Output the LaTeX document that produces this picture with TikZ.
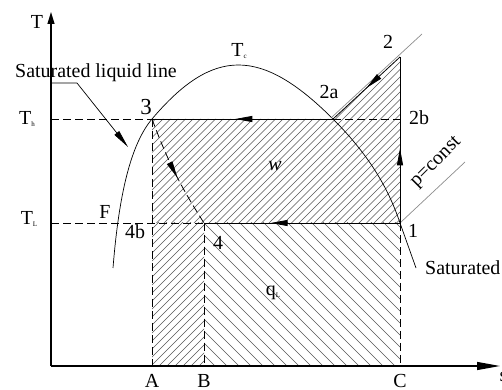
\documentclass[tikz,border=0pt]{standalone}
\usepackage{fontspec}
\setmainfont{Liberation Serif}
\usepackage{tikz}
\usetikzlibrary{arrows.meta,calc,decorations.markings}
\definecolor{hLine}{HTML}{555555}
\definecolor{pLine}{HTML}{8C8C8C}
\newcommand{\lowidx}[1]{\raisebox{-0.2ex}{\fontsize{7}{7}\selectfont #1}}
\tikzset{
  lbl/.style={font=\fontsize{20}{24}\selectfont, inner sep=0pt},
  cyc/.style={draw=black, line width=0.8pt},
  guide/.style={draw=black, line width=0.8pt, dash pattern=on 8bp off 4bp},
  hatch/.style={draw=hLine, line width=0.5pt},
  isobar/.style={draw=pLine, line width=0.7pt},
  axis/.style={draw=black, line width=1.2pt},
  flowmark/.style={postaction={decorate}, decoration={markings,
      mark=at position #1 with {\arrow{Triangle[length=17bp,width=6bp]}}}},
}

\begin{document}
\begin{tikzpicture}[x=10bp,y=10bp]
  \useasboundingbox (-5.1,-2.4) rectangle (45.1,36.6);
  % axes and state points
  \coordinate (O) at (0,0);
  \coordinate (Ttop) at (0,35.4);
  \coordinate (Send) at (44.9,0);
  \coordinate (A) at (10.1,0);
  \coordinate (B) at (15.3,0);
  \coordinate (C) at (34.9,0);
  \coordinate (Th) at (0,24.7);
  \coordinate (TL) at (0,14.3);
  \coordinate (p3) at (10.1,24.7);
  \coordinate (p2a) at (28.2,24.7);
  \coordinate (p2b) at (34.9,24.7);
  \coordinate (p2) at (34.9,30.9);
  \coordinate (p1) at (34.9,14.3);
  \coordinate (p4) at (15.3,14.3);
  \coordinate (p4b) at (10.1,14.3);
  \coordinate (iso1) at (37.1,33.2);
  \coordinate (iso2) at (41.4,20.4);
  \coordinate (domeL) at (6.2,9.8);
  \coordinate (domeR) at (36.5,9.8);

  % hatched areas
  \begin{scope}
    \clip (p4b) -- (p3) -- (p2a) -- (p2) -- (p1) -- cycle;
    \foreach \c in {-36,-35.25,...,36} \draw[hatch] (\c,0) -- ++(40,40);
  \end{scope}
  \begin{scope}
    \clip (p4b) -- (p4) -- (B) -- (A) -- cycle;
    \foreach \c in {-6,-5.2,...,17} \draw[hatch] (\c,0) -- ++(20,20);
  \end{scope}
  \begin{scope}
    \clip (p4) -- (p1) -- (C) -- (B) -- cycle;
    \foreach \c in {14,15.2,...,52} \draw[hatch] (\c,0) -- ++(-20,20);
  \end{scope}

  % axes
  \draw[axis, -{Triangle[length=12bp,width=7bp]}] (O) -- (Ttop);
  \draw[axis, -{Triangle[length=23bp,width=8bp]}] (O) -- (Send);

  % saturation dome
  \draw[line width=0.7pt] (domeL) .. controls (6.7,16) and (7.7,21.85) .. (p3)
    .. controls (16.2,31.9) and (21.0,31.9) .. (p2a)
    .. controls (31.7,21.2) and (33.7,17.9) .. (p1) -- (domeR);

  % constant pressure lines
  \draw[isobar] ([shift={(-0.15,0.15)}]p2a) -- (iso1);
  \draw[isobar] (p1) -- (iso2);

  % guide lines
  \draw[guide] (Th) -- (p3);
  \draw[guide] (TL) -- (p4);
  \draw[guide] (p3) -- (A);
  \draw[guide] (p4) -- (B);
  \draw[guide] (p1) -- (C);
  \draw[guide] (p2a) -- (p2b);

  % cycle
  \draw[cyc, flowmark=0.45] (p1) -- (p2);
  \draw[cyc, flowmark=0.5] (p2) -- (p2a);
  \draw[cyc, flowmark=0.54] (p2a) -- (p3);
  \draw[guide, flowmark=0.55] (p3) to[bend right=6] (p4);
  \draw[cyc, flowmark=0.66] (p1) -- (p4);

  % leader for the liquid line
  \coordinate (ldA) at (0.1,28.3);
  \coordinate (ldB) at (2.6,28.3);
  \coordinate (ldC) at (7.7,21.9);
  \draw[line width=0.7pt, -{Triangle[length=18bp,width=6bp]}] (ldA) -- (ldB) -- (ldC);

  % labels
  \node[lbl] (lT) at (-1.4,34.4) {T};
  \node[lbl] (lSL) at (4.5,29.3) {Saturated liquid line};
  \node[lbl] (lTh) at (-2.4,24.7) {T\lowidx{h}};
  \node[lbl] (lTL) at (-2.2,14.7) {T\lowidx{L}};
  \node[lbl] (lTc) at (18.8,31.5) {T\lowidx{c}};
  \node[lbl, font=\fontsize{23}{26}\selectfont] (l3) at (9.5,25.9) {3};
  \node[lbl] (l2) at (33.7,32.4) {2};
  \node[lbl] (l2a) at (27.8,27.4) {2a};
  \node[lbl] (l2b) at (36.8,24.8) {2b};
  \node[lbl] (l1) at (36.2,13.5) {1};
  \node[lbl] (l4) at (16.7,12.3) {4};
  \node[lbl] (l4b) at (8.4,13.4) {4b};
  \node[lbl] (lF) at (5.4,15.4) {F};
  \node[lbl] (lw) at (22.4,20.0) {\textit{w}};
  \node[lbl] (lq) at (22.2,7.3) {q\lowidx{L}};
  \node[lbl, rotate=45] (lp) at (38.55,20.35) {p=const};
  \node[lbl, anchor=west] (lSV) at (37.4,9.8) {Saturated};
  \node[lbl] (lA) at (10.1,-1.5) {A};
  \node[lbl] (lB) at (15.3,-1.5) {B};
  \node[lbl] (lC) at (34.9,-1.5) {C};
  \node[lbl, anchor=west] (ls) at (44.85,-1.1) {s};
\end{tikzpicture}
\end{document}
